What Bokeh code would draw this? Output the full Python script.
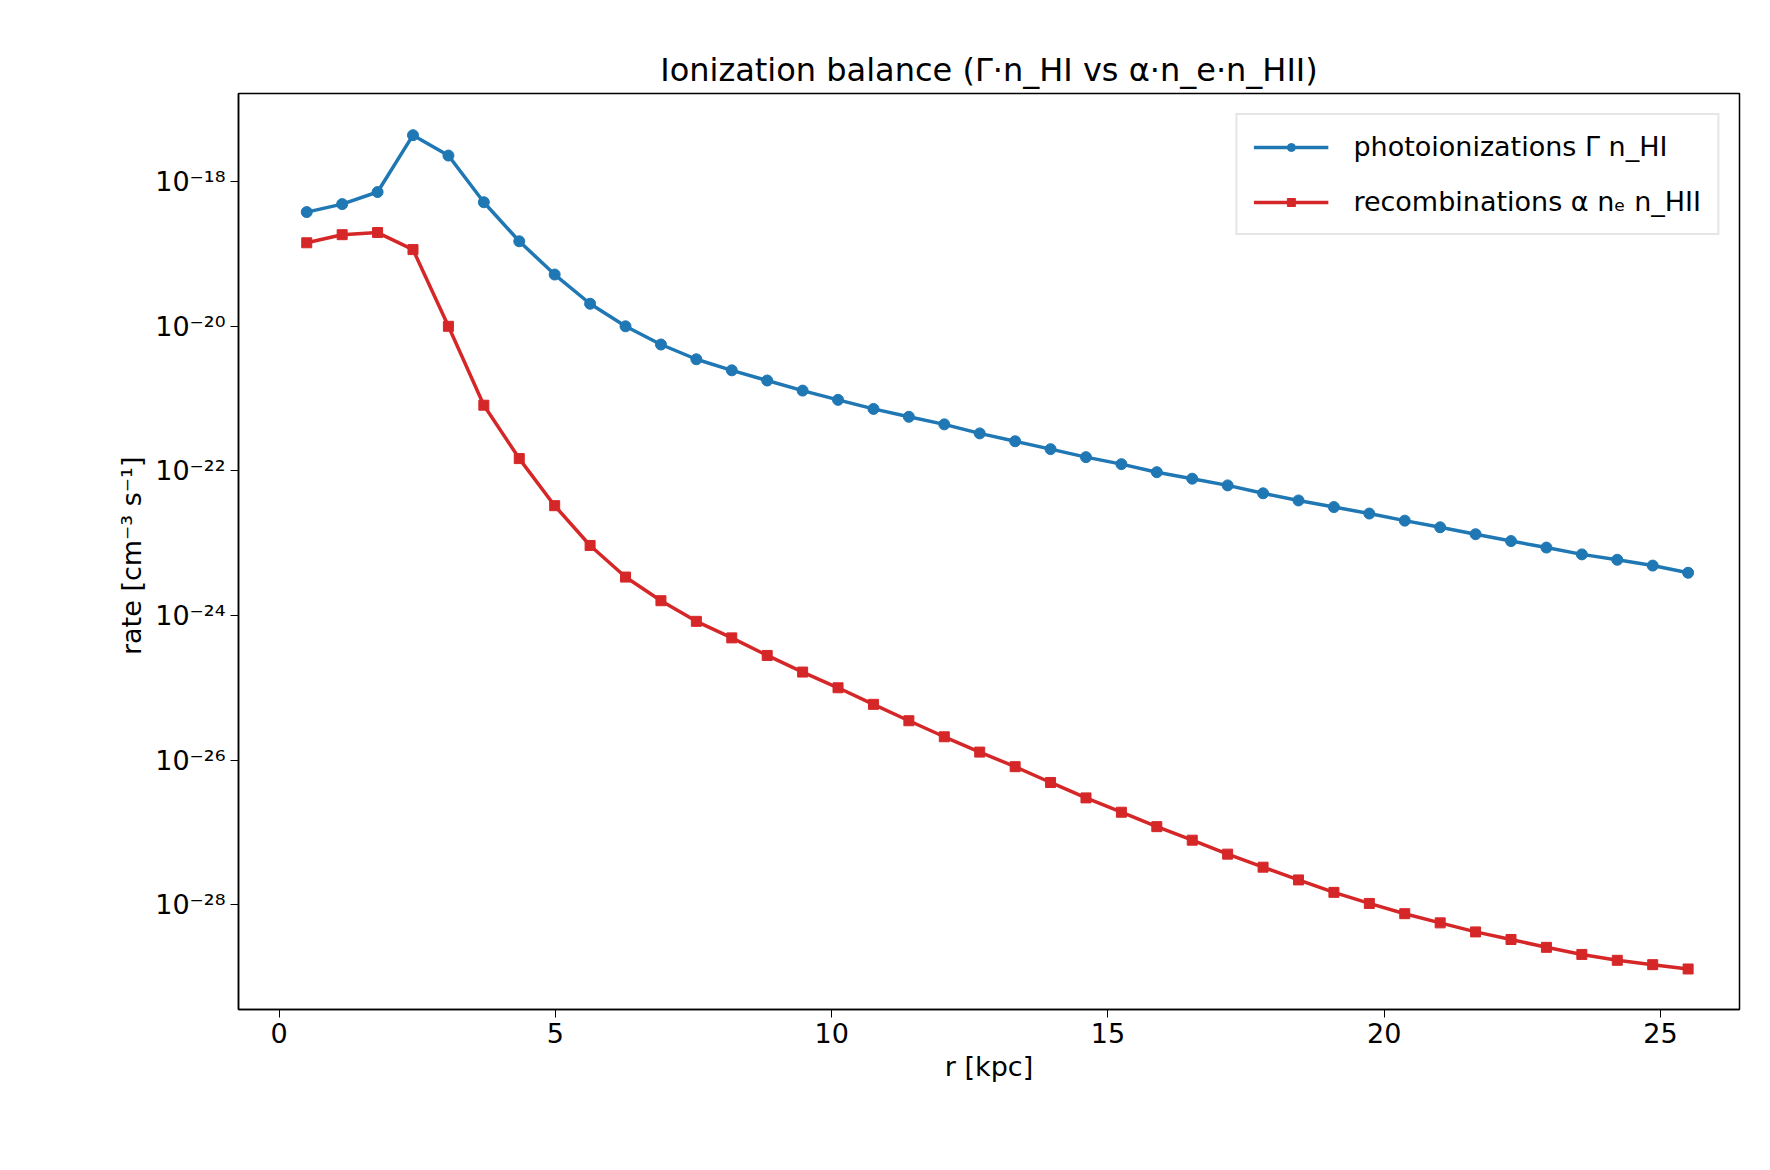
from bokeh.plotting import figure
from bokeh.models import FixedTicker, Range1d, Legend, LegendItem
from bokeh.embed import file_html
from bokeh.resources import INLINE

r = [0.5 + i * 25 / 39 for i in range(40)]
photo = [3.8e-19, 4.9e-19, 7.2e-19, 4.4e-18, 2.3e-18, 5.2e-19, 1.5e-19, 5.2e-20, 2.05e-20, 1.0e-20,
         5.6e-21, 3.5e-21, 2.46e-21, 1.78e-21, 1.29e-21, 9.6e-22, 7.2e-22, 5.6e-22, 4.4e-22, 3.3e-22,
         2.57e-22, 2.0e-22, 1.55e-22, 1.24e-22, 9.6e-23, 7.8e-23, 6.3e-23, 4.9e-23, 3.9e-23, 3.16e-23,
         2.57e-23, 2.05e-23, 1.66e-23, 1.33e-23, 1.07e-23, 8.7e-24, 7.0e-24, 5.9e-24, 4.9e-24, 3.9e-24]
recomb = [1.43e-19, 1.85e-19, 1.98e-19, 1.15e-19, 1.0e-20, 8.1e-22, 1.48e-22, 3.3e-23, 9.3e-24, 3.4e-24,
          1.6e-24, 8.3e-25, 4.9e-25, 2.8e-25, 1.65e-25, 1.0e-25, 5.9e-26, 3.5e-26, 2.1e-26, 1.29e-26,
          8.1e-27, 4.9e-27, 3.0e-27, 1.9e-27, 1.2e-27, 7.8e-28, 5.0e-28, 3.3e-28, 2.2e-28, 1.48e-28,
          1.04e-28, 7.5e-29, 5.6e-29, 4.2e-29, 3.3e-29, 2.57e-29, 2.05e-29, 1.7e-29, 1.48e-29, 1.29e-29]
yticks = [1e-18, 1e-20, 1e-22, 1e-24, 1e-26, 1e-28]
ytick_labels = ["10⁻¹⁸", "10⁻²⁰", "10⁻²²", "10⁻²⁴", "10⁻²⁶", "10⁻²⁸"]
xticks = [0, 5, 10, 15, 20, 25]

F = "DejaVu Sans"
p = figure(width=1745, height=1146, y_axis_type="log", output_backend="svg", toolbar_location=None,
           x_range=Range1d(-0.735, 26.43), y_range=Range1d(10**-29.45, 10**-16.78),
           min_border_left=238, min_border_right=6, min_border_top=93, min_border_bottom=137,
           title="Ionization balance (Γ·n_HI vs α·n_e·n_HII)")
p.title.align = "center"
p.title.text_font = F
p.title.text_font_size = "32px"
p.title.text_font_style = "normal"
p.title.text_color = "black"
p.grid.visible = False
p.outline_line_color = "black"
p.outline_line_width = 1.5
for ax in (p.xaxis[0], p.yaxis[0]):
    ax.major_label_text_font = F
    ax.major_label_text_font_size = "27px"
    ax.major_label_text_color = "black"
    ax.axis_label_text_font = F
    ax.axis_label_text_font_size = "27px"
    ax.axis_label_text_font_style = "normal"
    ax.axis_label_text_color = "black"
    ax.minor_tick_line_color = None
    ax.major_tick_out = 8
    ax.major_tick_in = 0
    ax.axis_line_width = 1.5
p.xaxis.ticker = FixedTicker(ticks=xticks)
p.yaxis.ticker = FixedTicker(ticks=yticks)
p.yaxis.major_label_overrides = {t: l for t, l in zip(yticks, ytick_labels)}
p.xaxis.axis_label = "r [kpc]"
p.yaxis.axis_label = "rate  [cm⁻³ s⁻¹]"

blue, red = "#1f77b4", "#d62728"
l1 = p.line(r, photo, color=blue, line_width=3.5)
c1 = p.scatter(r, photo, color=blue, size=11)
l2 = p.line(r, recomb, color=red, line_width=3.5)
c2 = p.scatter(r, recomb, color=red, size=10, marker="square")
leg = Legend(items=[LegendItem(label="photoionizations Γ n_HI", renderers=[l1, c1]),
                    LegendItem(label="recombinations α nₑ n_HII", renderers=[l2, c2])],
             location="top_right", label_text_font=F, label_text_font_size="27px",
             label_text_color="black", label_standoff=25,
             border_line_color="#cccccc", border_line_width=2, glyph_width=75,
             padding=16, spacing=24, margin=20)
p.add_layout(leg)

open("out.html", "w").write(file_html(p, INLINE))
